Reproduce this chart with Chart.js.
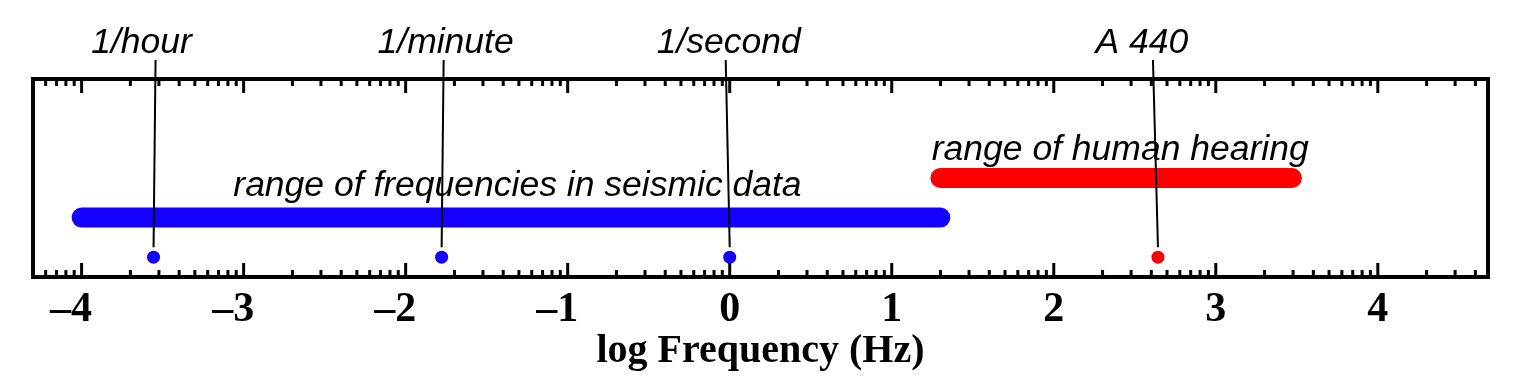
<!DOCTYPE html>
<html>
<head>
<meta charset="utf-8">
<script src="https://cdn.jsdelivr.net/npm/chart.js@4.4.1/dist/chart.umd.min.js"></script>
<style>
  body { margin: 0; background: #fff; }
  canvas { display: block; }
</style>
</head>
<body>
<canvas id="freq-chart" width="1527" height="383"></canvas>
<script>
// Data: log10 of frequency in Hz
const xTicks = [-4, -3, -2, -1, 0, 1, 2, 3, 4];
const seismicRange = [-4, 1.3];
const hearingRange = [1.3, 3.47];
const markerNames = ['1/hour', '1/minute', '1/second', 'A 440'];
const markerLogFreq = [-3.556, -1.778, 0, 2.643];

// Rows on the (hidden) y axis
const MARKER_ROW = 1;
const SEISMIC_ROW = 3;
const HEARING_ROW = 5;

const BLUE = '#1400ff';
const RED = '#ff0000';

const seismicMarkers = [];
const hearingMarkers = [];
markerLogFreq.forEach(function (v) {
    const p = { x: v, y: MARKER_ROW };
    if (v < hearingRange[0]) seismicMarkers.push(p); else hearingMarkers.push(p);
});

// Frame, inward log ticks, leader lines and italic labels
const decorations = {
    id: 'decorations',
    afterDraw(chart) {
        const c = chart.ctx;
        const a = chart.chartArea;
        const xs = chart.scales.x;
        const ys = chart.scales.y;

        c.save();
        c.strokeStyle = '#000';
        c.lineCap = 'butt';

        // inward tick marks, top and bottom
        function tick(v, len) {
            const px = xs.getPixelForValue(v);
            if (px < a.left + 3 || px > a.right - 3) return;
            c.beginPath();
            c.moveTo(px, a.top); c.lineTo(px, a.top + len);
            c.moveTo(px, a.bottom); c.lineTo(px, a.bottom - len);
            c.stroke();
        }
        c.lineWidth = 3;
        for (let d = -5; d <= 4; d++) {
            tick(d, 14);
            for (let k = 2; k <= 9; k++) tick(d + Math.log10(k), 7);
        }

        // frame
        c.lineWidth = 4;
        c.strokeRect(a.left, a.top, a.right - a.left, a.bottom - a.top);

        // leader lines
        const topDx = [2, 2, -4, -5];
        const textDx = [-12, 4, -1, -16];
        c.lineWidth = 2;
        const markerY = ys.getPixelForValue(MARKER_ROW);
        markerLogFreq.forEach(function (v, i) {
            const px = xs.getPixelForValue(v);
            c.beginPath();
            c.moveTo(px + topDx[i], a.top - 19);
            c.lineTo(px, markerY - 10);
            c.stroke();
        });

        // labels
        c.fillStyle = '#000';
        c.font = 'italic 35.5px "Liberation Sans", Arial, sans-serif';
        c.textAlign = 'center';
        c.textBaseline = 'alphabetic';
        markerNames.forEach(function (name, i) {
            const px = xs.getPixelForValue(markerLogFreq[i]);
            c.fillText(name, px + textDx[i], a.top - 26);
        });

        c.fillText('range of frequencies in seismic data', xs.getPixelForValue(-1.31), ys.getPixelForValue(SEISMIC_ROW) - 22);
        c.fillText('range of human hearing', xs.getPixelForValue(2.41), ys.getPixelForValue(HEARING_ROW) - 18);
        c.restore();
    }
};

const ctx = document.getElementById('freq-chart').getContext('2d');
const freqChart = new Chart(ctx, {
    type: 'scatter',
    data: {
        datasets: [{
            data: seismicRange.map(v => ({ x: v, y: SEISMIC_ROW })),
            showLine: true,
            borderColor: BLUE,
            borderWidth: 20,
            borderCapStyle: 'round',
            pointRadius: 0
        }, {
            data: hearingRange.map(v => ({ x: v, y: HEARING_ROW })),
            showLine: true,
            borderColor: RED,
            borderWidth: 20,
            borderCapStyle: 'round',
            pointRadius: 0
        }, {
            data: seismicMarkers,
            backgroundColor: BLUE,
            borderWidth: 0,
            pointRadius: 6.5
        }, {
            data: hearingMarkers,
            backgroundColor: RED,
            borderWidth: 0,
            pointRadius: 6.5
        }]
    },
    options: {
        responsive: false,
        animation: false,
        devicePixelRatio: 1,
        layout: { padding: { top: 79, left: 33, right: 39, bottom: 0 } },
        scales: {
            x: {
                type: 'linear',
                min: -4.3,
                max: 4.68,
                afterBuildTicks: s => { s.ticks = xTicks.map(v => ({ value: v })); },
                afterFit: s => { s.height = 106; },
                grid: { display: false, drawTicks: false },
                border: { display: false },
                ticks: {
                    color: '#000',
                    padding: 8,
                    maxRotation: 0,
                    autoSkip: false,
                    font: { family: '"Liberation Serif", "Times New Roman", serif', weight: 'bold', size: 42 },
                    // en space on the right keeps the digit centred on its tick
                    callback: v => (v < 0 ? '\u2013' + Math.abs(v) + '\u2002' : String(v))
                },
                title: {
                    display: true,
                    text: 'log Frequency (Hz)',
                    color: '#000',
                    font: { family: '"Liberation Serif", "Times New Roman", serif', weight: 'bold', size: 40 },
                    padding: { top: 0, bottom: 7 }
                }
            },
            y: { display: false, min: 0, max: 10 }
        },
        plugins: {
            legend: { display: false },
            tooltip: { enabled: false }
        }
    },
    plugins: [decorations]
});
</script>
</body>
</html>
